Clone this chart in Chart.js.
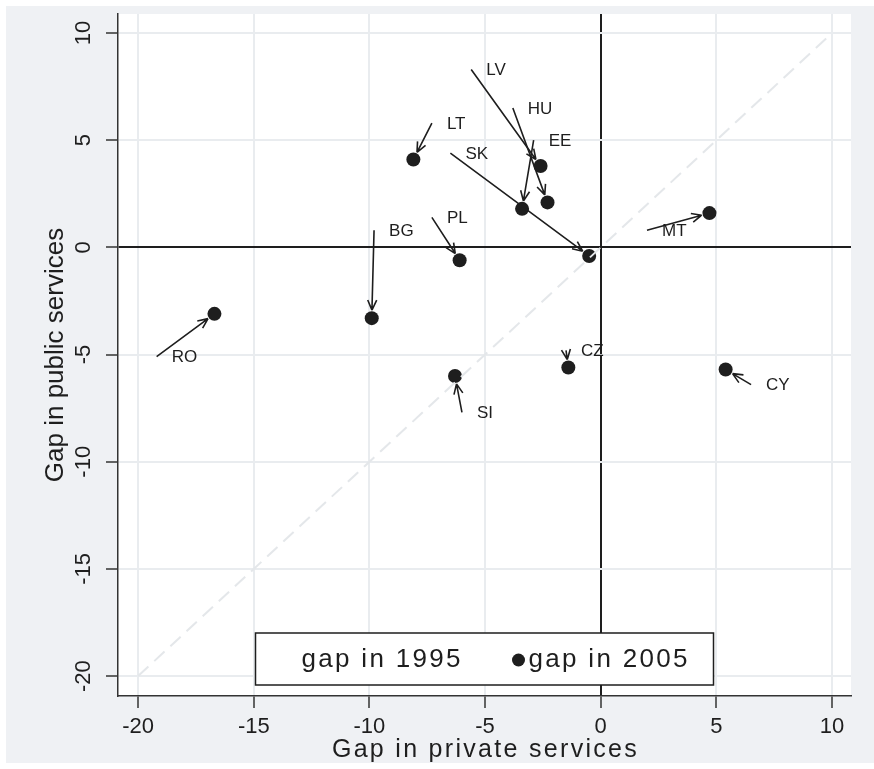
<!DOCTYPE html>
<html>
<head>
<meta charset="utf-8">
<script src="https://cdn.jsdelivr.net/npm/chart.js@4.4.1/dist/chart.umd.min.js"></script>
<style>
  html, body { margin: 0; padding: 0; background: #fff; }
  #wrap { width: 874px; height: 769px; }
</style>
</head>
<body>
<div id="wrap"><canvas id="chart" width="874" height="769"></canvas></div>
<script>
// gaps (arrows go 1995 -> 2005)
const countries   = ['RO', 'BG', 'LT', 'PL', 'SI', 'SK', 'LV', 'HU', 'EE', 'MT', 'CZ', 'CY'];
const private1995 = [-19.2, -9.8, -7.3, -7.3, -6.0, -6.5, -5.6, -3.8, -2.9, 2.0, -1.5, 6.5];
const public1995  = [-5.1, 0.8, 5.8, 1.4, -7.7, 4.4, 8.3, 6.5, 5.0, 0.8, -4.8, -6.4];
const private2005 = [-16.7, -9.9, -8.1, -6.1, -6.3, -0.5, -2.6, -2.3, -3.4, 4.7, -1.4, 5.4];
const public2005  = [-3.1, -3.3, 4.1, -0.6, -6.0, -0.4, 3.8, 2.1, 1.8, 1.6, -5.6, -5.7];
const diagonal    = [-20, 10];
const xTicks = [-20, -15, -10, -5, 0, 5, 10];
const yTicks = [-20, -15, -10, -5, 0, 5, 10];

const FONT = 'Liberation Sans';
const INK = '#1e1e1e';

const toPoints = (xs, ys) => xs.map((v, i) => ({ x: v, y: ys[i] }));

// grey frame round the white plot region
const background = {
  id: 'background',
  beforeDraw(chart) {
    const { ctx, chartArea: a } = chart;
    ctx.save();
    ctx.fillStyle = '#ffffff';
    ctx.fillRect(0, 0, chart.width, chart.height);
    ctx.fillStyle = '#eff1f4';
    ctx.fillRect(6, 6, chart.width - 6, chart.height - 12);
    ctx.fillStyle = '#ffffff';
    ctx.fillRect(a.left, a.top, a.right - a.left, a.bottom - a.top);
    ctx.restore();
  }
};

// arrows from the 1995 gap to the 2005 gap, country code at the 1995 end
const arrows = {
  id: 'arrows',
  afterDatasetsDraw(chart) {
    const { ctx, scales: { x, y } } = chart;
    ctx.save();
    ctx.strokeStyle = INK;
    ctx.fillStyle = INK;
    ctx.lineWidth = 1.6;
    ctx.font = '17px "' + FONT + '"';
    ctx.textAlign = 'left';
    ctx.textBaseline = 'middle';
    countries.forEach((c, i) => {
      const x0 = x.getPixelForValue(private1995[i]);
      const y0 = y.getPixelForValue(public1995[i]);
      const x1 = x.getPixelForValue(private2005[i]);
      const y1 = y.getPixelForValue(public2005[i]);
      const ang = Math.atan2(y1 - y0, x1 - x0);
      const tx = x1 - 8 * Math.cos(ang);
      const ty = y1 - 8 * Math.sin(ang);
      ctx.beginPath();
      ctx.moveTo(x0, y0);
      ctx.lineTo(tx, ty);
      [-1, 1].forEach(s => {
        const a = ang + Math.PI + s * 0.42;
        ctx.moveTo(tx, ty);
        ctx.lineTo(tx + 11 * Math.cos(a), ty + 11 * Math.sin(a));
      });
      ctx.stroke();
      ctx.fillText(c, x0 + 15, y0 + 1);
    });
    ctx.restore();
  }
};

// x title and boxed legend, drawn with the wide letter spacing of the original
const boxLegend = {
  id: 'boxLegend',
  afterDraw(chart) {
    const { ctx, chartArea: a } = chart;
    const w = 458, h = 52;
    const mid = (a.left + a.right) / 2;
    const left = mid - w / 2;
    const top = a.bottom - 11 - h;
    ctx.save();
    ctx.fillStyle = '#ffffff';
    ctx.fillRect(left, top, w, h);
    ctx.strokeStyle = INK;
    ctx.lineWidth = 1.5;
    ctx.strokeRect(left, top, w, h);
    ctx.fillStyle = INK;
    ctx.font = '26px "' + FONT + '"';
    ctx.letterSpacing = '2.3px';
    ctx.textBaseline = 'middle';
    ctx.textAlign = 'left';
    const cy = top + h / 2 + 1;
    ctx.fillText(chart.data.datasets[1].label, left + 46, cy);
    ctx.beginPath();
    ctx.arc(left + 263, cy, 6.5, 0, Math.PI * 2);
    ctx.fill();
    ctx.fillText(chart.data.datasets[0].label, left + 273, cy);

    ctx.font = '25px "' + FONT + '"';
    ctx.letterSpacing = '2.3px';
    ctx.textAlign = 'center';
    ctx.fillText('Gap in private services', mid + 1, 750);
    ctx.restore();
  }
};

const zeroLine = c => (c.tick && c.tick.value === 0 ? INK : '#e9ecef');

new Chart(document.getElementById('chart'), {
  type: 'scatter',
  data: {
    datasets: [
      {
        label: 'gap in 2005',
        data: toPoints(private2005, public2005),
        pointRadius: 7,
        pointBackgroundColor: INK,
        pointBorderWidth: 0,
        order: 2
      },
      {
        label: 'gap in 1995',
        data: toPoints(private1995, public1995),
        pointRadius: 0,
        order: 3
      },
      {
        type: 'line',
        label: 'diagonal',
        data: toPoints(diagonal, diagonal),
        borderColor: '#e4e7ea',
        borderWidth: 2,
        borderDash: [14, 8],
        pointRadius: 0,
        order: 1
      }
    ]
  },
  options: {
    responsive: false,
    animation: false,
    layout: { padding: { left: 0, top: 14, right: 23, bottom: 0 } },
    plugins: { legend: { display: false }, tooltip: { enabled: false } },
    scales: {
      x: {
        type: 'linear',
        min: -20.87,
        max: 10.82,
        afterBuildTicks: s => { s.ticks = xTicks.map(v => ({ value: v })); },
        afterFit: s => { s.height = 73; s.paddingLeft = 0; s.paddingRight = 0; },
        grid: { color: zeroLine, lineWidth: 2, tickColor: '#333', tickLength: 12, tickWidth: 1.5 },
        border: { display: true, color: '#333', width: 1.5 },
        ticks: { padding: 6, maxRotation: 0, font: { family: FONT, size: 22 }, color: INK },
        title: { display: false, text: 'Gap in private services' }
      },
      y: {
        type: 'linear',
        min: -20.93,
        max: 10.89,
        afterBuildTicks: s => { s.ticks = yTicks.map(v => ({ value: v })); },
        afterFit: s => { s.width = 118; s.paddingTop = 0; s.paddingBottom = 0; },
        grid: { color: zeroLine, lineWidth: 2, tickColor: '#333', tickLength: 12, tickWidth: 1.5 },
        border: { display: true, color: '#333', width: 1.5 },
        ticks: { minRotation: 90, maxRotation: 90, crossAlign: 'center', padding: 6, font: { family: FONT, size: 22 }, color: INK },
        title: { display: true, text: 'Gap in public services', font: { family: FONT, size: 26 }, color: INK, padding: { top: 40, bottom: 0 } }
      }
    }
  },
  plugins: [background, arrows, boxLegend]
});
</script>
</body>
</html>
